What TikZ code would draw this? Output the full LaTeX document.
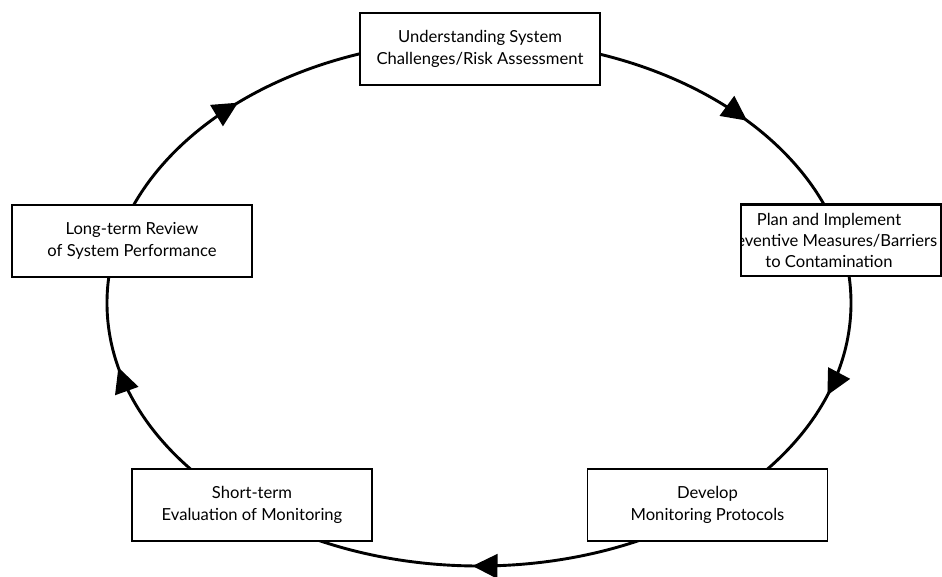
\documentclass[tikz,border=0pt]{standalone}
\usepackage{fontspec}
\setmainfont{Lato}
\begin{document}
\begin{tikzpicture}[x=1pt,y=1pt,
  stagebox/.style={draw=black, fill=white, line width=1.5pt, align=center,
    minimum width=240pt, minimum height=72pt, inner sep=0pt,
    font=\fontsize{16.6}{22}\selectfont},
  cycleline/.style={line width=2.9pt, black},
  tipfill/.style={fill=black}]
\useasboundingbox (0,0) rectangle (942,576);
\coordinate (c) at (479,273);
\draw[cycleline] (c) ellipse [x radius=372pt, y radius=263pt];
\foreach \t in {43.9,-20.5,-91,194.2,130.4}{
  \pgfmathsetmacro\px{479+372*cos(\t)}
  \pgfmathsetmacro\py{273+263*sin(\t)}
  \pgfmathsetmacro\ang{atan2(-263*cos(\t),372*sin(\t))}
  \fill[tipfill, shift={(\px,\py)}, rotate=\ang] (0,0) -- (-25,12.5) -- (-25,-12.5) -- cycle;
}
\node[stagebox] (top) at (480,527) {Understanding System\\Challenges/Risk Assessment};
\node[stagebox] (left) at (132,335) {Long-term Review\\of System Performance};
\node[stagebox] (bl) at (252,71) {Short-term\\Evaluation of Monitoring};
\node[stagebox] (br) at (707.5,71) {Develop\\Monitoring Protocols};
\node[stagebox, minimum width=200pt, minimum height=71pt] (right) at (841,335.5) {};
\begin{scope}
  \clip (right.south west) rectangle (right.north east);
  \node[align=center, inner sep=0pt, font=\fontsize{16.6}{21}\selectfont] (righttext) at (829,335.5)
    {Plan and Implement\\Preventive Measures/Barriers\\to Contamination};
\end{scope}
\draw[line width=1.5pt] (right.south west) rectangle (right.north east);
\end{tikzpicture}
\end{document}
